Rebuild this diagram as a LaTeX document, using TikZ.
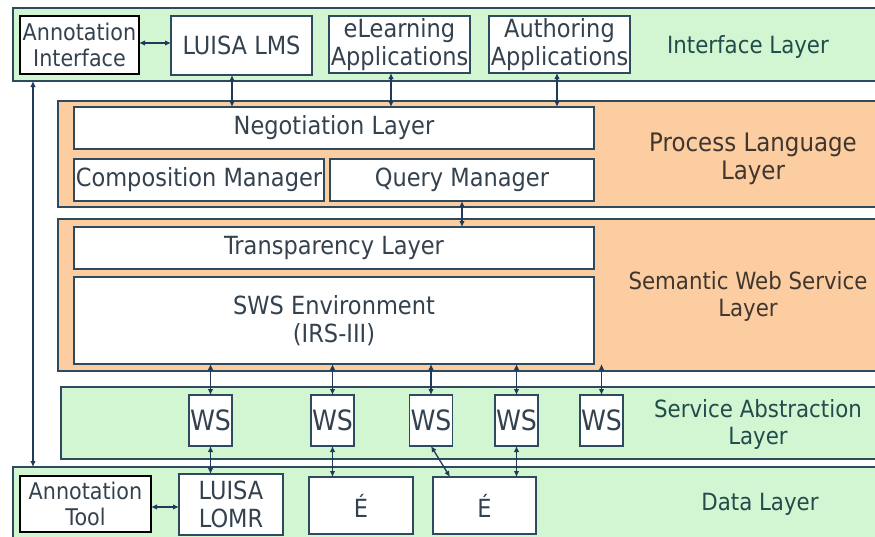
\documentclass[tikz,border=0pt]{standalone}
\usepackage{fontspec}
\setmainfont{DejaVu Sans}[FakeStretch=0.9]
\usetikzlibrary{arrows.meta}
\definecolor{layergreen}{HTML}{D2F5D2}
\definecolor{layerorange}{HTML}{FBCDA0}
\definecolor{edge}{HTML}{2E4A5E}
\definecolor{ink}{HTML}{34424F}
\definecolor{tealink}{HTML}{224C4C}
\definecolor{brownink}{HTML}{403630}
\definecolor{wire}{HTML}{1E3A58}

\begin{document}
\begin{tikzpicture}[x=1pt,y=-1pt,
  every node/.style={outer sep=0pt, inner sep=0pt},
  greenlayer/.style={draw=edge, line width=1.4pt, fill=layergreen},
  orangelayer/.style={draw=edge, line width=1.4pt, fill=layerorange},
  box/.style={draw=edge, line width=1.4pt, fill=white, text=ink, align=center,
    font=\fontsize{25}{28}\selectfont},
  annobox/.style={box, draw=black, line width=2.4pt, font=\fontsize{23}{26}\selectfont},
  wsbox/.style={box, font=\fontsize{28}{30}\selectfont},
  layerlabel/.style={align=center, font=\fontsize{23.7}{27}\selectfont},
  dar/.style={draw=wire, line width=1.3pt,
    {Latex[length=6pt,width=5.5pt]}-{Latex[length=6pt,width=5.5pt]}},
]
\useasboundingbox (0,0) rectangle (875,536);
\fill[white] (0,0) rectangle (875,536);

% ---- layers ----
\node[greenlayer, minimum width=872pt, minimum height=73pt] (ifl) at (449,44.5) {};
\node[orangelayer, minimum width=827pt, minimum height=106pt] (plg) at (471.5,154) {};
\node[orangelayer, minimum width=827pt, minimum height=152pt] (swl) at (471.5,295) {};
\node[greenlayer, minimum width=824pt, minimum height=72pt] (sal) at (473,423) {};
\node[greenlayer, minimum width=872pt, minimum height=80pt] (dl) at (449,507) {};

% ---- layer labels ----
\node[layerlabel, text=tealink] (ifltext) at (748,47) {Interface Layer};
\node[layerlabel, text=brownink, font=\fontsize{25.5}{28}\selectfont] (plgtext) at (753,159) {Process Language\\Layer};
\node[layerlabel, text=brownink] (swltext) at (748,296) {Semantic Web Service\\Layer};
\node[layerlabel, text=tealink] (saltext) at (758,424) {Service Abstraction\\Layer};
\node[layerlabel, text=tealink] (dltext) at (760,504) {Data Layer};

% ---- interface layer ----
\node[annobox, minimum width=119pt, minimum height=58pt] (ai) at (79.5,45) {Annotation\\Interface};
\node[box, minimum width=141pt, minimum height=59pt] (lms) at (241.5,45.5) {LUISA LMS};
\node[box, minimum width=141pt, minimum height=57pt] (elearn) at (399.5,44.5) {eLearning\\Applications};
\node[box, minimum width=141pt, minimum height=57pt] (auth) at (559.5,44.5) {Authoring\\Applications};

% ---- process language layer ----
\node[box, minimum width=520pt, minimum height=42pt] (neg) at (334,128) {Negotiation Layer};
\node[box, minimum width=250pt, minimum height=42pt] (comp) at (199,180) {Composition Manager};
\node[box, minimum width=264pt, minimum height=42pt] (qm) at (462,180) {Query Manager};

% ---- semantic web service layer ----
\node[box, minimum width=520pt, minimum height=42pt] (trans) at (334,248) {Transparency Layer};
\node[box, minimum width=520pt, minimum height=87pt] (swsenv) at (334,320.5) {SWS Environment\\(IRS-III)};

% ---- service abstraction layer ----
\node[wsbox, minimum width=43pt, minimum height=51pt] (ws1) at (210.5,420.5) {WS};
\node[wsbox, minimum width=43pt, minimum height=51pt] (ws2) at (332.5,420.5) {WS};
\node[wsbox, minimum width=43pt, minimum height=51pt] (ws3) at (431,420.5) {WS};
\node[wsbox, minimum width=43pt, minimum height=51pt] (ws4) at (516.5,420.5) {WS};
\node[wsbox, minimum width=43pt, minimum height=51pt] (ws5) at (601.5,420.5) {WS};

% ---- data layer ----
\node[annobox, minimum width=131pt, minimum height=56pt] (at) at (85.5,504) {Annotation\\Tool};
\node[box, minimum width=104pt, minimum height=61pt] (lomr) at (231,504.5) {LUISA\\LOMR};
\node[box, minimum width=104pt, minimum height=57pt] (e1) at (361,505.5) {É};
\node[box, minimum width=103pt, minimum height=57pt] (e2) at (484.5,505.5) {É};

% ---- connectors ----
\coordinate (xline) at (33,0);
\draw[dar] (ifl.south -| xline) -- (dl.north -| xline);
\draw[dar] ([yshift=2pt]ai.east) -- ([yshift=2pt]ai.east -| lms.west);
\draw[dar] ([yshift=-3pt]at.east) -- ([yshift=-3pt]at.east -| lomr.west);

\draw[dar] ([xshift=-9.5pt]lms.south) -- ([xshift=-9.5pt]lms.south |- neg.north);
\draw[dar] ([xshift=-8.5pt]elearn.south) -- ([xshift=-8.5pt]elearn.south |- neg.north);
\draw[dar] ([xshift=-2.5pt]auth.south) -- ([xshift=-2.5pt]auth.south |- neg.north);

\draw[dar] (qm.south) -- (qm.south |- trans.north);

\foreach \w in {ws1,ws2,ws3,ws4,ws5}
  \draw[dar] (\w.north |- swsenv.south) -- (\w.north);

\draw[dar] (ws1.south) -- (ws1.south |- lomr.north);
\draw[dar] (ws2.south) -- (ws2.south |- e1.north);
\draw[dar] (ws3.south) -- ([xshift=17pt]e2.north west);
\draw[dar] (ws4.south) -- (ws4.south |- e2.north);
\end{tikzpicture}
\end{document}
